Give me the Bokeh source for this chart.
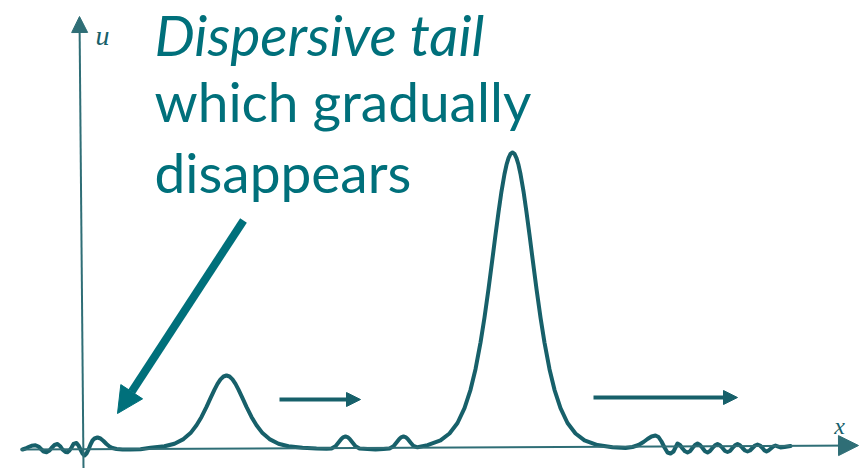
from bokeh.plotting import figure
from bokeh.models import Range1d, Arrow, NormalHead, Label
from bokeh.embed import file_html
from bokeh.resources import INLINE

tail_left_x = [-62, -59, -56, -53, -49, -46, -44, -41, -38, -35, -33, -30, -27, -24, -22, -19, -17, -15,
               -13, -11, -8, -6, -4, -2, 0, 2, 4, 6, 8, 10, 13, 16, 19, 22, 25, 28, 32, 38, 46, 56]
tail_left_u = [-1, 0, 1.5, 2.7, 3.2, 2, 0, -3, -3.7, -2, 0.5, 3.5, 4.5, 2, -1, -3.5, -3.8, -2,
               1, 4.5, 5.5, 3, -1, -5, -7, -5, -1, 4, 8, 10, 11, 10, 7.5, 4.5, 2, 0.5, -0.5, -1, -1, -0.7]

small_x = [66, 80, 90, 99, 106, 112, 117, 122, 126, 130, 133, 136, 139, 142, 145, 148, 151, 154,
           158, 162, 167, 172, 178, 185, 194, 204, 218]
small_u = [0.75, 2.2, 4.8, 9.4, 15.4, 23.2, 31.6, 41.7, 50.4, 58.9, 64.6, 69.1, 72.0, 73, 72.0, 69.1, 64.6, 58.9,
           50.4, 41.7, 31.6, 23.2, 15.4, 9.4, 4.8, 2.2, 0.75]

ripple_x = [232, 242, 247, 251, 254, 257, 259, 261, 263, 265, 268, 271, 275, 283, 291, 299,
            305, 309, 312, 315, 317, 319, 321, 323, 326, 329, 333]
ripple_u = [0, -0.3, 0, 2.3, 6, 9.7, 11.4, 12, 11.4, 9.7, 6, 2.3, 0, -0.5, -1, -0.5,
            0, 2.3, 6, 9.7, 11.4, 12, 11.4, 9.7, 6, 2.5, 1.2]

big_x = [343, 356, 365, 373, 380, 386, 391, 396, 400, 404, 408, 411, 414, 417, 420, 422, 424, 426, 428,
         430, 432, 434, 436, 439, 442, 445, 448, 452, 456, 460, 465, 470, 476, 483, 491, 500, 513, 528]
big_u = [3.4, 8.1, 15, 25.5, 40.3, 58.7, 79.3, 105.9, 131, 159.5, 190.2, 213.7, 236.3, 257.2, 274.5, 283.7, 290.4, 294.6, 296,
         294.6, 290.4, 283.7, 274.5, 257.2, 236.3, 213.7, 190.2, 159.5, 131, 105.9, 79.3, 58.7, 40.3, 25.5, 15, 8.1, 3.4, 1.2]

tail_right_x = [541, 548, 554, 559, 563, 567, 571, 574, 577, 580, 583, 586, 589, 591, 593, 595.5, 598, 600.5,
                603, 605.5, 608, 610.5, 613, 615.5, 618, 620.5, 623, 625.5, 628, 630.5, 633, 635.5, 638, 640.5,
                643, 645.5, 648, 650.5, 653, 655.5, 658, 660.5, 663, 665.5, 668, 670.5, 673, 675.5, 678, 680,
                682, 684, 687, 689, 691, 693, 696, 700, 706]
tail_right_u = [0.5, 1.5, 3.5, 6.5, 9.5, 12, 13, 11.5, 7, 1, -4, -5, -3, 1, 5, 3.5, 0, -2.8,
                -4, -2.8, 0.5, 3.5, 5, 3.5, 0.5, -2.8, -4, -2.5, 0.5, 3.2, 4.5, 3.2, 0.5, -2.5,
                -3.5, -2.5, 0.5, 3.2, 4.5, 3.2, 0.5, -2, -3, -2, 0.5, 3, 4, 3, 0.5, -2,
                -3, -2, 0.5, 2.2, 3, 2.2, 1, 1.5, 2.5]

annotation_lines = ["Dispersive tail", "which gradually", "disappears"]
axis_labels = ["u", "x"]

TEXT_COLOR = "#00707b"
CURVE_COLOR = "#17606a"
AXIS_COLOR = "#2f6e76"

p = figure(width=868, height=468, output_backend="svg", toolbar_location=None,
           x_range=Range1d(-84, 784), y_range=Range1d(-20, 448),
           x_axis_type=None, y_axis_type=None, min_border=0)
p.grid.visible = False
p.outline_line_color = None
p.background_fill_color = "white"
p.border_fill_color = "white"

# axes with arrow heads
p.add_layout(Arrow(end=NormalHead(size=20, fill_color=AXIS_COLOR, line_color=AXIS_COLOR),
                   x_start=-64, y_start=-1, x_end=774, y_end=3,
                   line_color=AXIS_COLOR, line_width=2))
p.add_layout(Arrow(end=NormalHead(size=16, fill_color=AXIS_COLOR, line_color=AXIS_COLOR),
                   x_start=-1, y_start=-20, x_end=-5, y_end=432,
                   line_color=AXIS_COLOR, line_width=2))

# wave profile
curve_x = tail_left_x + small_x + ripple_x + big_x + tail_right_x
curve_u = tail_left_u + small_u + ripple_u + big_u + tail_right_u
p.line(curve_x, curve_u, line_color=CURVE_COLOR, line_width=4, line_join="round", line_cap="round")

# direction arrows
p.add_layout(Arrow(end=NormalHead(size=14, fill_color=CURVE_COLOR, line_color=CURVE_COLOR),
                   x_start=195, y_start=49, x_end=276, y_end=49,
                   line_color=CURVE_COLOR, line_width=4))
p.add_layout(Arrow(end=NormalHead(size=14, fill_color=CURVE_COLOR, line_color=CURVE_COLOR),
                   x_start=509, y_start=51, x_end=653, y_end=51,
                   line_color=CURVE_COLOR, line_width=4))

# pointer arrow to the dispersive tail
p.add_layout(Arrow(end=NormalHead(size=26, fill_color=TEXT_COLOR, line_color=TEXT_COLOR),
                   x_start=159, y_start=228, x_end=33, y_end=35,
                   line_color=TEXT_COLOR, line_width=8))

# axis labels
p.add_layout(Label(x=18, y=413, text=axis_labels[0], text_font="Liberation Serif",
                   text_font_style="italic", text_font_size="28px", text_color=CURVE_COLOR,
                   text_align="center", text_baseline="middle"))
p.add_layout(Label(x=755, y=23, text=axis_labels[1], text_font="Liberation Serif",
                   text_font_style="italic", text_font_size="24px", text_color=CURVE_COLOR,
                   text_align="center", text_baseline="middle"))

# annotation text
middles = [415, 348, 277]
styles = ["italic", "normal", "normal"]
sizes = ["57px", "55px", "55px"]
for txt, ym, st, fs in zip(annotation_lines, middles, styles, sizes):
    p.add_layout(Label(x=70, y=ym, text=txt, text_font="Lato", text_font_style=st,
                       text_font_size=fs, text_color=TEXT_COLOR,
                       text_align="left", text_baseline="middle"))

open("out.html", "w").write(file_html(p, INLINE))
